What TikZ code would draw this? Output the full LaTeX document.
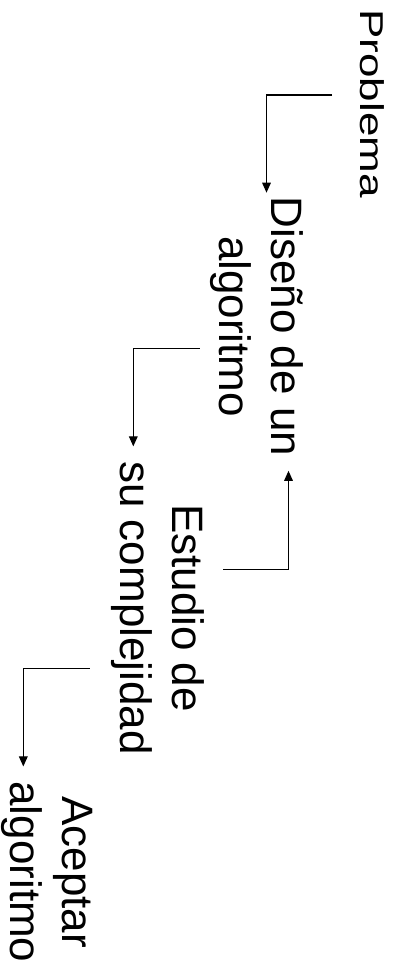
\documentclass[tikz,border=0pt]{standalone}
\usepackage{fontspec}
\setmainfont{Liberation Sans}
\usetikzlibrary{arrows.meta,calc}
\begin{document}
\begin{tikzpicture}[x=0.75pt,y=-0.75pt,
  lbl/.style={rotate=-90, inner sep=0pt, align=center,
              font=\fontsize{33}{39}\selectfont},
  link/.style={line width=0.8pt, -{Triangle[width=6.5pt,length=7.5pt]}}]
\useasboundingbox (0,0) rectangle (405,967);
% the four stages, set sideways
\node[lbl, yscale=0.75] (prob) at (372.5,103.5) {Problema};
\node[lbl] (dis) at (256.8,326.5) {Diseño de un\\algoritmo};
\node[lbl] (est) at (158.3,608) {Estudio de\\su complejidad};
\node[lbl] (acc) at (47.1,872) {Aceptar\\algoritmo};
% elbow connectors between the stages
\draw[link] ($(prob.south)+(-28,-8.5)$) -| ($(dis.west)+(9.7,-3.9)$);
\draw[link] ($(dis.south)+(-10.2,21.8)$) -| ($(est.west)+(-25,-14.6)$);
\draw[link] ($(est.north)+(18.1,-38.7)$) -| ($(dis.east)+(31.7,14.4)$);
\draw[link] ($(est.south)+(-21.9,60.3)$) -| ($(acc.west)+(-23.8,-14.8)$);
\end{tikzpicture}
\end{document}
